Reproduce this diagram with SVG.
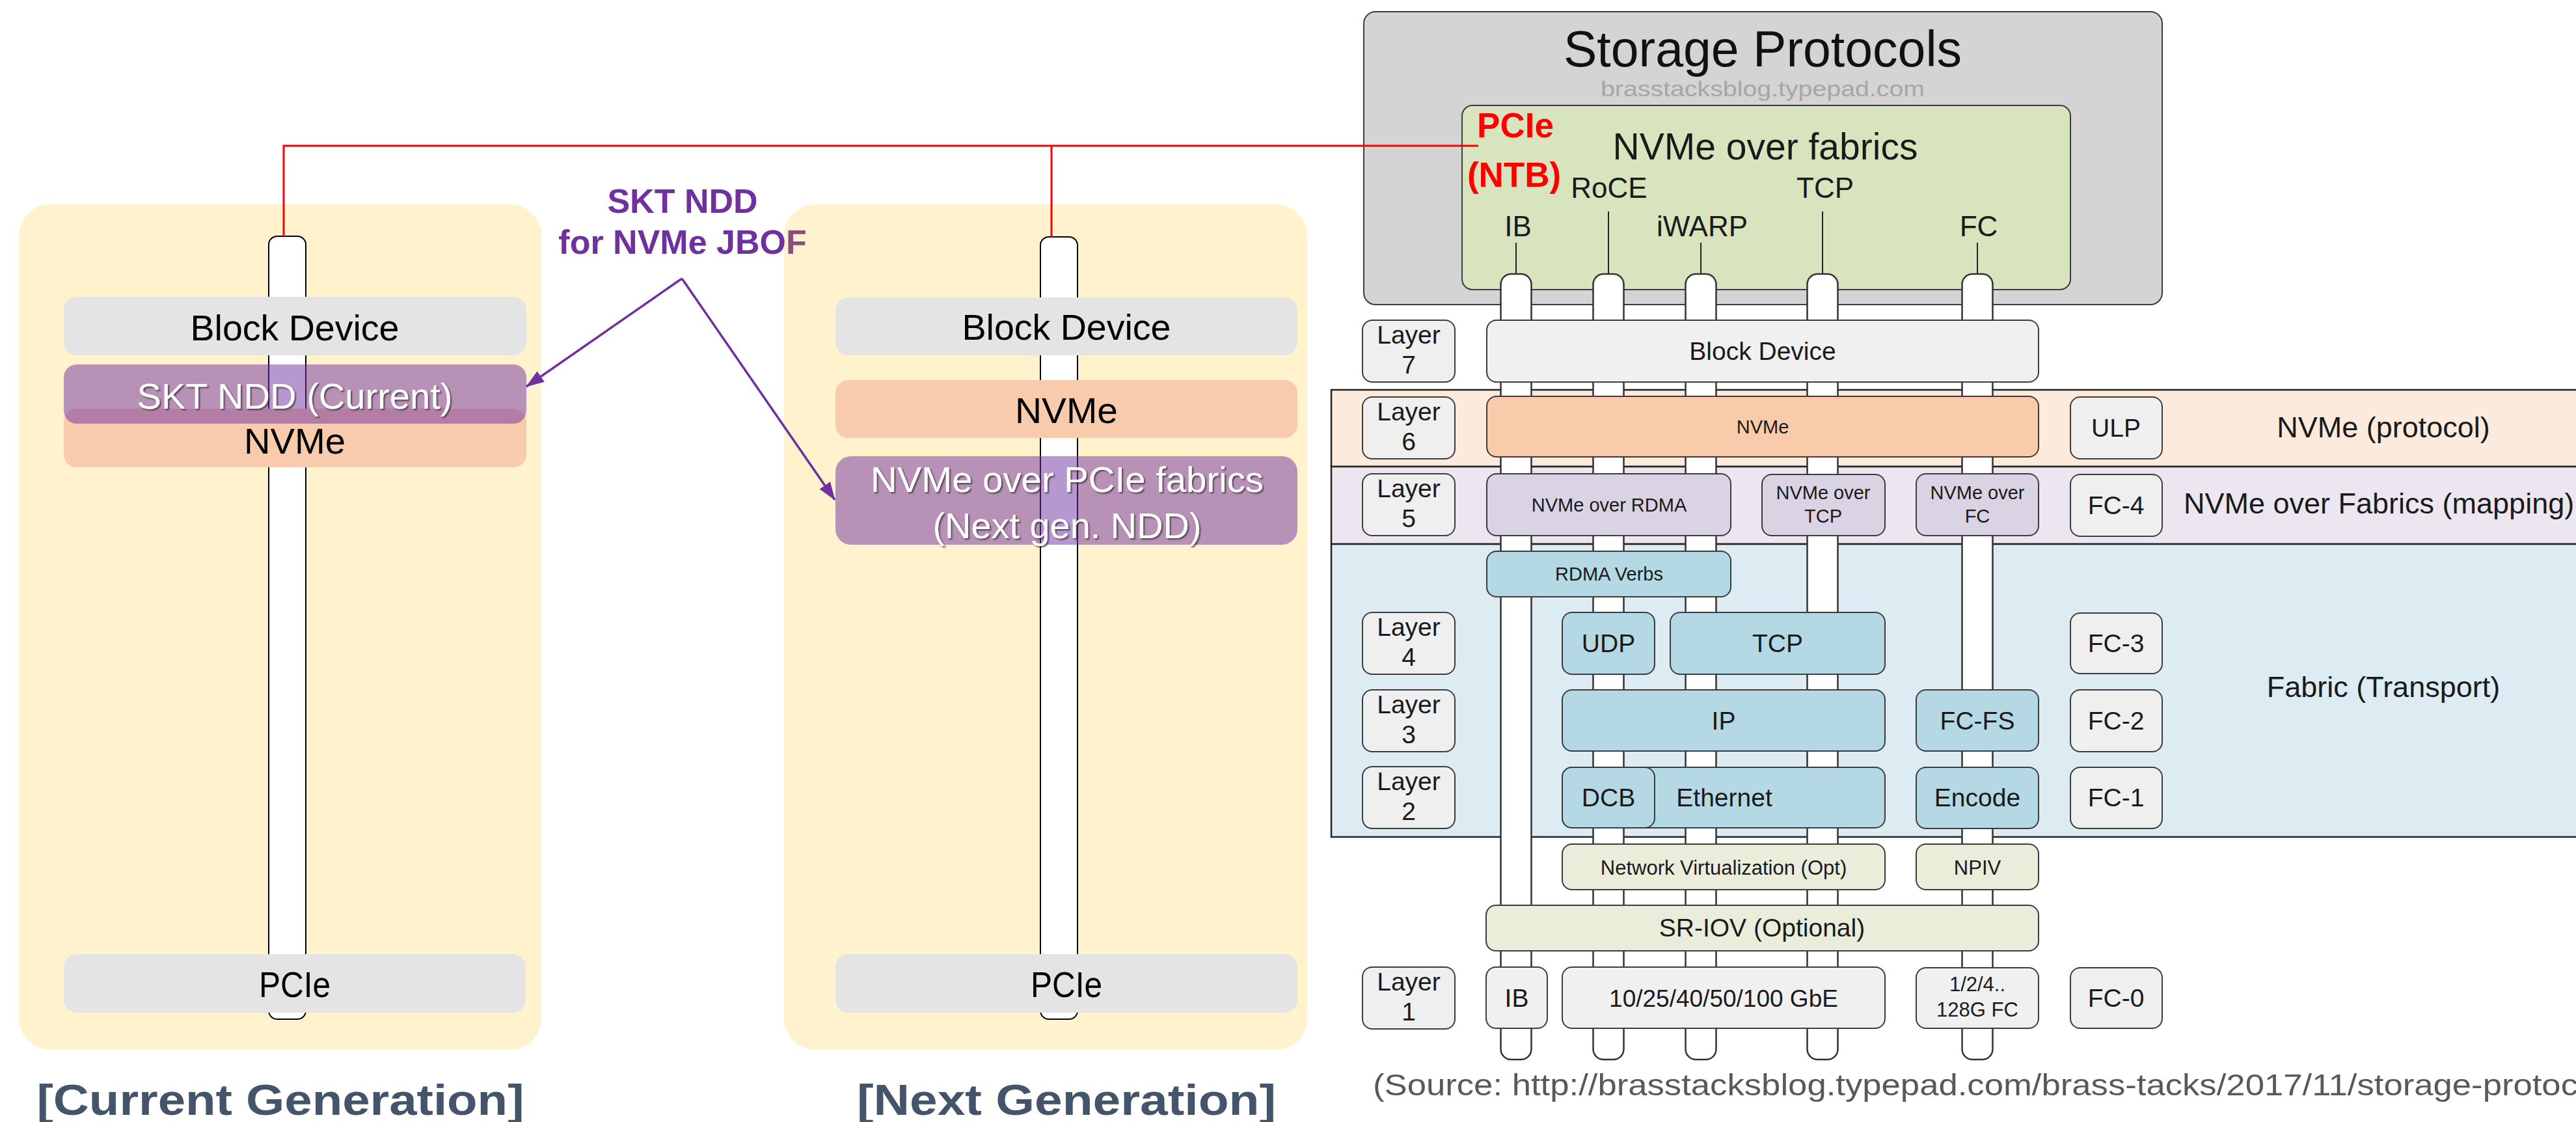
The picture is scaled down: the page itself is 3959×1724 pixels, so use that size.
<svg xmlns="http://www.w3.org/2000/svg" width="3959" height="1724" viewBox="0 0 3959 1724">
  <defs>
    <style>
      text { font-family: "Liberation Sans", Arial, sans-serif; }
      .panel { fill: #FFC000; fill-opacity: 0.2; }
      .pill { fill: #FFFFFF; stroke: #000000; stroke-width: 2; }
      .gray { fill: #E4E4E4; }
      .peach { fill: #F8CBAD; }
      .violet { fill: #7030A0; fill-opacity: 0.5; }
      .lbl { font-size: 56px; fill: #000000; text-anchor: middle; }
      .lblw { font-size: 56px; fill: #FFFFFF; text-anchor: middle; filter: url(#shadow); }
      .gen { font-size: 66px; font-weight: bold; fill: #44546A; text-anchor: middle; }
      .note { font-size: 52px; font-weight: bold; fill: #7030A0; text-anchor: middle; }
      .red { fill: none; stroke: #FF0000; stroke-width: 3; }
      .arrow { fill: none; stroke: #7030A0; stroke-width: 3.5; marker-end: url(#arrowPurple); }
      .frame { stroke: #3c3c3c; stroke-width: 2; }
      .band { stroke: #222222; stroke-width: 2.5; }
      .col { fill: #FFFFFF; stroke: #333333; stroke-width: 2.5; }
      .lay { fill: #EFEFEF; }
      .bd { fill: #F0F0F0; }
      .nv { fill: #F9CBAA; }
      .map { fill: #DAD3E3; }
      .tr { fill: #B4D9E4; }
      .opt { fill: #E9EDDA; }
      .t { fill: #1A1A1A; text-anchor: middle; }
      .s39 { font-size: 39px; }
      .s29 { font-size: 29px; }
      .s31 { font-size: 31px; }
      .s44 { font-size: 44px; }
      .side { font-size: 45px; fill: #1A1A1A; }
    </style>
    <marker id="arrowPurple" markerUnits="userSpaceOnUse" markerWidth="28" markerHeight="20" refX="27" refY="10" orient="auto">
      <path d="M0,0 L28,10 L0,20 z" fill="#7030A0"/>
    </marker>
    <filter id="shadow" x="-5%" y="-30%" width="110%" height="160%">
      <feDropShadow dx="2" dy="2" stdDeviation="1.2" flood-color="#3a2a3a" flood-opacity="0.8"/>
    </filter>
  </defs>

  <rect x="0" y="0" width="3959" height="1724" fill="#FFFFFF"/>

  <!-- annotation above the two stacks -->
  <g id="note-skt-ndd">
    <text class="note" x="1049" y="327">SKT NDD</text>
    <text class="note" x="1049" y="390">for NVMe JBOF</text>
  </g>

  <!-- current generation stack -->
  <g id="current-generation">
    <rect class="panel" x="29" y="314" width="803" height="1299" rx="48"/>
    <rect class="pill" x="413" y="363" width="57" height="1203" rx="13"/>
    <g id="cur-block-device">
      <rect class="gray" x="98" y="456" width="711" height="90" rx="20"/>
      <text class="lbl" x="453" y="523" textLength="321" lengthAdjust="spacingAndGlyphs">Block Device</text>
    </g>
    <g id="cur-nvme">
      <rect class="peach" x="98" y="628" width="711" height="90" rx="20"/>
      <text class="lbl" x="453" y="697" textLength="156" lengthAdjust="spacingAndGlyphs">NVMe</text>
    </g>
    <g id="cur-skt-ndd">
      <rect class="violet" x="98" y="560" width="711" height="91" rx="20"/>
      <text class="lblw" x="453" y="628" textLength="485" lengthAdjust="spacingAndGlyphs">SKT NDD (Current)</text>
    </g>
    <g id="cur-pcie">
      <rect class="gray" x="98" y="1466" width="710" height="90" rx="20"/>
      <text class="lbl" x="453" y="1532" textLength="110" lengthAdjust="spacingAndGlyphs">PCIe</text>
    </g>
    <text class="gen" x="431" y="1713" textLength="749" lengthAdjust="spacingAndGlyphs">[Current Generation]</text>
  </g>

  <!-- next generation stack -->
  <g id="next-generation">
    <rect class="panel" x="1205" y="314" width="804" height="1299" rx="48"/>
    <rect class="pill" x="1599" y="364" width="57" height="1202" rx="13"/>
    <g id="next-block-device">
      <rect class="gray" x="1284" y="457" width="710" height="89" rx="20"/>
      <text class="lbl" x="1639" y="522" textLength="321" lengthAdjust="spacingAndGlyphs">Block Device</text>
    </g>
    <g id="next-nvme">
      <rect class="peach" x="1284" y="584" width="710" height="89" rx="20"/>
      <text class="lbl" x="1639" y="650" textLength="158" lengthAdjust="spacingAndGlyphs">NVMe</text>
    </g>
    <g id="next-nvme-pcie-fabrics">
      <rect class="violet" x="1284" y="701" width="710" height="136" rx="24"/>
      <text class="lblw" x="1640" y="756" textLength="604" lengthAdjust="spacingAndGlyphs">NVMe over PCIe fabrics</text>
      <text class="lblw" x="1640" y="827" textLength="413" lengthAdjust="spacingAndGlyphs">(Next gen. NDD)</text>
    </g>
    <g id="next-pcie">
      <rect class="gray" x="1284" y="1466" width="710" height="90" rx="20"/>
      <text class="lbl" x="1639" y="1532" textLength="110" lengthAdjust="spacingAndGlyphs">PCIe</text>
    </g>
    <text class="gen" x="1639" y="1713" textLength="644" lengthAdjust="spacingAndGlyphs">[Next Generation]</text>
  </g>

  <!-- storage protocol stack reference figure -->
  <g id="storage-protocols">
    <rect x="2096" y="18" width="1227" height="450" rx="18" fill="#D4D4D4" class="frame"/>
    <text x="2709" y="102" font-size="77" fill="#111111" text-anchor="middle">Storage Protocols</text>
    <text x="2709" y="148" font-size="33" fill="#A6A6A6" text-anchor="middle" textLength="498" lengthAdjust="spacingAndGlyphs">brasstacksblog.typepad.com</text>
    <g id="nvme-over-fabrics">
      <rect x="2247" y="162" width="935" height="283" rx="16" fill="#D7E4BD" class="frame"/>
      <text class="t" x="2713" y="245" font-size="57">NVMe over fabrics</text>
      <text class="t s44" x="2473" y="304">RoCE</text>
      <text class="t s44" x="2805" y="304">TCP</text>
      <text class="t s44" x="2333" y="363">IB</text>
      <text class="t s44" x="2616" y="363">iWARP</text>
      <text class="t s44" x="3041" y="363">FC</text>
      <g stroke="#222222" stroke-width="2">
        <line x1="2330" y1="373" x2="2330" y2="421"/>
        <line x1="2472" y1="325" x2="2472" y2="421"/>
        <line x1="2614" y1="373" x2="2614" y2="421"/>
        <line x1="2801" y1="325" x2="2801" y2="421"/>
        <line x1="3039" y1="373" x2="3039" y2="421"/>
      </g>
    </g>

    <!-- layer bands -->
    <rect class="band" x="2046" y="599" width="1940" height="118" fill="#FCEADC"/>
    <rect class="band" x="2046" y="717" width="1940" height="119" fill="#EBE6F0"/>
    <rect class="band" x="2046" y="836" width="1940" height="450" fill="#DCECF2"/>

    <!-- transport columns -->
    <g id="columns">
      <rect class="col" x="2306.5" y="421" width="47" height="1207" rx="16"/>
      <rect class="col" x="2448.5" y="421" width="47" height="1207" rx="16"/>
      <rect class="col" x="2590.5" y="421" width="47" height="1207" rx="16"/>
      <rect class="col" x="2777.5" y="421" width="47" height="1207" rx="16"/>
      <rect class="col" x="3015.5" y="421" width="47" height="1207" rx="16"/>
    </g>

    <!-- layer number labels -->
    <g id="layer-labels">
      <g id="layer7"><rect class="lay frame" x="2094" y="492" width="142" height="95" rx="15"/><text class="t s39" x="2165" y="528">Layer</text><text class="t s39" x="2165" y="574">7</text></g>
      <g id="layer6"><rect class="lay frame" x="2094" y="610" width="142" height="95" rx="15"/><text class="t s39" x="2165" y="646">Layer</text><text class="t s39" x="2165" y="692">6</text></g>
      <g id="layer5"><rect class="lay frame" x="2094" y="728" width="142" height="95" rx="15"/><text class="t s39" x="2165" y="764">Layer</text><text class="t s39" x="2165" y="810">5</text></g>
      <g id="layer4"><rect class="lay frame" x="2094" y="941" width="142" height="95" rx="15"/><text class="t s39" x="2165" y="977">Layer</text><text class="t s39" x="2165" y="1023">4</text></g>
      <g id="layer3"><rect class="lay frame" x="2094" y="1060" width="142" height="95" rx="15"/><text class="t s39" x="2165" y="1096">Layer</text><text class="t s39" x="2165" y="1142">3</text></g>
      <g id="layer2"><rect class="lay frame" x="2094" y="1178" width="142" height="95" rx="15"/><text class="t s39" x="2165" y="1214">Layer</text><text class="t s39" x="2165" y="1260">2</text></g>
      <g id="layer1"><rect class="lay frame" x="2094" y="1486" width="142" height="95" rx="15"/><text class="t s39" x="2165" y="1522">Layer</text><text class="t s39" x="2165" y="1568">1</text></g>
    </g>

    <!-- protocol blocks -->
    <g id="sp-block-device"><rect class="bd frame" x="2285" y="492" width="848" height="95" rx="15"/><text class="t s39" x="2709" y="553">Block Device</text></g>
    <g id="sp-nvme"><rect class="nv frame" x="2285" y="609" width="848" height="93" rx="15"/><text class="t s29" x="2709" y="666">NVMe</text></g>
    <g id="sp-nvme-rdma"><rect class="map frame" x="2285" y="728" width="375" height="95" rx="15"/><text class="t s29" x="2473" y="786">NVMe over RDMA</text></g>
    <g id="sp-nvme-tcp"><rect class="map frame" x="2708" y="729" width="189" height="94" rx="15"/><text class="t s29" x="2802" y="767">NVMe over</text><text class="t s29" x="2802" y="803">TCP</text></g>
    <g id="sp-nvme-fc"><rect class="map frame" x="2945" y="728" width="188" height="95" rx="15"/><text class="t s29" x="3039" y="767">NVMe over</text><text class="t s29" x="3039" y="803">FC</text></g>
    <g id="sp-rdma-verbs"><rect class="tr frame" x="2285" y="847" width="375" height="70" rx="15"/><text class="t s29" x="2473" y="892">RDMA Verbs</text></g>
    <g id="sp-udp"><rect class="tr frame" x="2401" y="941" width="142" height="95" rx="15"/><text class="t s39" x="2472" y="1002">UDP</text></g>
    <g id="sp-tcp"><rect class="tr frame" x="2567" y="941" width="330" height="95" rx="15"/><text class="t s39" x="2732" y="1002">TCP</text></g>
    <g id="sp-ip"><rect class="tr frame" x="2401" y="1060" width="496" height="94" rx="15"/><text class="t s39" x="2649" y="1121">IP</text></g>
    <g id="sp-fc-fs"><rect class="tr frame" x="2945" y="1060" width="188" height="94" rx="15"/><text class="t s39" x="3039" y="1121">FC-FS</text></g>
    <g id="sp-ethernet"><rect class="tr frame" x="2401" y="1179" width="496" height="93" rx="15"/><text class="t s39" x="2650" y="1239">Ethernet</text></g>
    <g id="sp-dcb"><rect class="tr frame" x="2401" y="1179" width="142" height="93" rx="15"/><text class="t s39" x="2472" y="1239">DCB</text></g>
    <g id="sp-encode"><rect class="tr frame" x="2945" y="1179" width="188" height="94" rx="15"/><text class="t s39" x="3039" y="1239">Encode</text></g>
    <g id="sp-netvirt"><rect class="opt frame" x="2401" y="1297" width="496" height="70" rx="15"/><text class="t s31" x="2649" y="1344">Network Virtualization (Opt)</text></g>
    <g id="sp-npiv"><rect class="opt frame" x="2945" y="1297" width="188" height="70" rx="15"/><text class="t s31" x="3039" y="1344">NPIV</text></g>
    <g id="sp-sriov"><rect class="opt frame" x="2284" y="1391" width="849" height="70" rx="15"/><text class="t s39" x="2708" y="1439">SR-IOV (Optional)</text></g>
    <g id="sp-ib"><rect class="bd frame" x="2284" y="1486" width="94" height="94" rx="15"/><text class="t s39" x="2331" y="1547">IB</text></g>
    <g id="sp-gbe"><rect class="bd frame" x="2401" y="1486" width="496" height="94" rx="15"/><text class="t" font-size="37" x="2649" y="1547">10/25/40/50/100 GbE</text></g>
    <g id="sp-fcspeed"><rect class="bd frame" x="2945" y="1487" width="188" height="93" rx="15"/><text class="t s31" x="3039" y="1523">1/2/4..</text><text class="t s31" x="3039" y="1562">128G FC</text></g>

    <!-- fibre channel levels -->
    <g id="sp-ulp"><rect class="lay frame" x="3182" y="610" width="141" height="95" rx="15"/><text class="t s39" x="3252" y="671">ULP</text></g>
    <g id="sp-fc4"><rect class="lay frame" x="3182" y="729" width="141" height="95" rx="15"/><text class="t s39" x="3252" y="790">FC-4</text></g>
    <g id="sp-fc3"><rect class="lay frame" x="3182" y="942" width="141" height="93" rx="15"/><text class="t s39" x="3252" y="1002">FC-3</text></g>
    <g id="sp-fc2"><rect class="lay frame" x="3182" y="1060" width="141" height="95" rx="15"/><text class="t s39" x="3252" y="1121">FC-2</text></g>
    <g id="sp-fc1"><rect class="lay frame" x="3182" y="1179" width="141" height="94" rx="15"/><text class="t s39" x="3252" y="1239">FC-1</text></g>
    <g id="sp-fc0"><rect class="lay frame" x="3182" y="1487" width="141" height="93" rx="15"/><text class="t s39" x="3252" y="1547">FC-0</text></g>

    <text class="side" x="3663" y="672" text-anchor="middle">NVMe (protocol)</text>
    <text class="side" x="3356" y="789">NVMe over Fabrics (mapping)</text>
    <text class="side" x="3663" y="1071" text-anchor="middle">Fabric (Transport)</text>

    <text x="2110" y="1683" font-size="46" fill="#595959" textLength="1852" lengthAdjust="spacingAndGlyphs">(Source: http://brasstacksblog.typepad.com/brass-tacks/2017/11/storage-protoc</text>
  </g>

  <g id="pcie-ntb-label">
    <text x="2329" y="211" font-size="53" font-weight="bold" fill="#FF0000" text-anchor="middle">PCIe</text>
    <text x="2327" y="287" font-size="53" font-weight="bold" fill="#FF0000" text-anchor="middle">(NTB)</text>
  </g>

  <!-- connectors -->
  <g id="connectors">
    <polyline class="red" points="436,363 436,224 2272,224"/>
    <line class="red" x1="1616" y1="224" x2="1616" y2="364"/>
    <line class="arrow" x1="1048" y1="428" x2="809" y2="594"/>
    <line class="arrow" x1="1048" y1="428" x2="1283" y2="768"/>
  </g>
</svg>
